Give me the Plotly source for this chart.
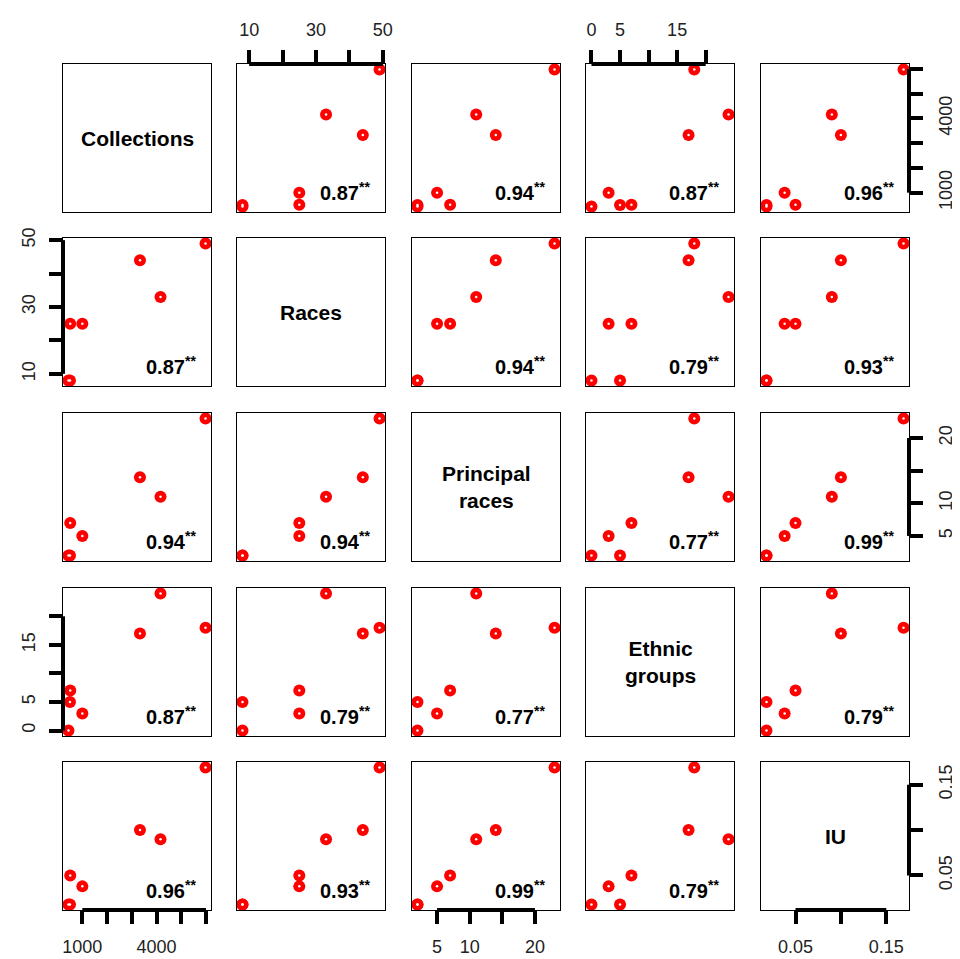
import plotly.graph_objects as go

# ---------------- data ----------------
var_names = ["Collections", "Races", "Principal races", "Ethnic groups", "IU"]
diag_labels = ["Collections", "Races", "Principal<br>races", "Ethnic<br>groups", "IU"]

collections = [5980, 4160, 3330, 1000, 510, 500, 440]
races = [49, 33, 44, 25, 25, 8, 8]
principal_races = [23, 11, 14, 5, 7, 2, 2]
ethnic_groups = [18, 24, 17, 3, 7, 5, 0]
iu = [0.169, 0.090, 0.100, 0.038, 0.050, 0.018, 0.018]

corr_pairs = [(0, 1), (0, 2), (0, 3), (0, 4), (1, 2), (1, 3), (1, 4), (2, 3), (2, 4), (3, 4)]
corr_values = ["0.87", "0.94", "0.87", "0.96", "0.94", "0.79", "0.93", "0.77", "0.99", "0.79"]

coll_ticks = [1000, 2000, 3000, 4000, 5000, 6000]
coll_ticktext = ["1000", "", "", "4000", "", ""]
races_ticks = [10, 20, 30, 40, 50]
races_ticktext = ["10", "", "30", "", "50"]
pr_ticks = [5, 10, 15, 20]
pr_ticktext = ["5", "10", "", "20"]
eth_ticks = [0, 5, 10, 15, 20]
eth_ticktext = ["0", "5", "", "15", ""]
iu_ticks = [0.05, 0.10, 0.15]
iu_ticktext = ["0.05", "", "0.15"]

series = [collections, races, principal_races, ethnic_groups, iu]
ticks = [coll_ticks, races_ticks, pr_ticks, eth_ticks, iu_ticks]
ticktexts = [coll_ticktext, races_ticktext, pr_ticktext, eth_ticktext, iu_ticktext]

# ---------------- layout geometry ----------------
# the page body adds an 8px margin, so the figure is drawn offset by 8px
OFF = 8
W, H = 960 - OFF, 959 - OFF
col_left = [x - OFF for x in [63, 237, 412, 586, 761]]
row_top = [y - OFF for y in [64, 238, 413, 588, 762]]
PW = 148

FONT = "Liberation Sans, Arial, sans-serif"
n = len(series)


def padded(v):
    lo, hi = min(v), max(v)
    d = hi - lo
    return [lo - 0.04 * d, hi + 0.04 * d]


ranges = [padded(s) for s in series]
corr_map = {}
for (i, j), c in zip(corr_pairs, corr_values):
    corr_map[(i, j)] = c
    corr_map[(j, i)] = c

fig = go.Figure()
layout = dict(
    width=W, height=H,
    margin=dict(l=0, r=0, t=0, b=0, autoexpand=False),
    paper_bgcolor="white", plot_bgcolor="white",
    showlegend=False,
)
annotations = []
shapes = []

tick_font = dict(family=FONT, size=18, color="#222222")
tick_style = dict(ticks="outside", ticklen=13, tickwidth=4, tickcolor="black",
                  showticklabels=True, tickfont=tick_font, ticklabelstandoff=7)

for r in range(n):
    for c in range(n):
        k = r * n + c + 1
        xa = "xaxis" if k == 1 else f"xaxis{k}"
        ya = "yaxis" if k == 1 else f"yaxis{k}"
        xr = "x" if k == 1 else f"x{k}"
        yr = "y" if k == 1 else f"y{k}"
        xdom = [col_left[c] / W, (col_left[c] + PW) / W]
        ydom = [1 - (row_top[r] + PW) / H, 1 - row_top[r] / H]

        xaxis = dict(domain=xdom, anchor=yr, range=ranges[c], showgrid=False,
                     zeroline=False, showline=True, linecolor="black", linewidth=1,
                     mirror=True, showticklabels=False, ticks="", automargin=False,
                     fixedrange=True)
        yaxis = dict(domain=ydom, anchor=xr, range=ranges[r], showgrid=False,
                     zeroline=False, showline=True, linecolor="black", linewidth=1,
                     mirror=True, showticklabels=False, ticks="", automargin=False,
                     fixedrange=True)

        # x axes: top on row 1 (cols 2,4), bottom on last row (cols 1,3,5)
        if r == 0 and c % 2 == 1:
            xaxis.update(side="top", tickvals=ticks[c], ticktext=ticktexts[c], **tick_style)
            shapes.append(dict(type="line", xref=xr, yref=f"{yr} domain",
                               x0=ticks[c][0], x1=ticks[c][-1], y0=1, y1=1,
                               line=dict(color="black", width=4)))
        if r == n - 1 and c % 2 == 0:
            xaxis.update(side="bottom", tickvals=ticks[c], ticktext=ticktexts[c], **tick_style)
            shapes.append(dict(type="line", xref=xr, yref=f"{yr} domain",
                               x0=ticks[c][0], x1=ticks[c][-1], y0=0, y1=0,
                               line=dict(color="black", width=4)))
        # y axes: left on col 1 (rows 2,4), right on last col (rows 1,3,5)
        if c == 0 and r % 2 == 1:
            yaxis.update(side="left", tickvals=ticks[r], ticktext=ticktexts[r],
                         tickangle=-90, **tick_style)
            shapes.append(dict(type="line", yref=yr, xref=f"{xr} domain",
                               y0=ticks[r][0], y1=ticks[r][-1], x0=0, x1=0,
                               line=dict(color="black", width=4)))
        if c == n - 1 and r % 2 == 0:
            yaxis.update(side="right", tickvals=ticks[r], ticktext=ticktexts[r],
                         tickangle=-90, **tick_style)
            shapes.append(dict(type="line", yref=yr, xref=f"{xr} domain",
                               y0=ticks[r][0], y1=ticks[r][-1], x0=1, x1=1,
                               line=dict(color="black", width=4)))

        layout[xa] = xaxis
        layout[ya] = yaxis

        if r == c:
            # empty trace so that the diagonal panel is rendered
            fig.add_trace(go.Scatter(x=[None], y=[None], xaxis=xr, yaxis=yr,
                                     mode="markers", hoverinfo="skip"))
            annotations.append(dict(
                xref=f"{xr} domain", yref=f"{yr} domain", x=0.5, y=0.5,
                text=f"<b>{diag_labels[r]}</b>", showarrow=False,
                font=dict(family=FONT, size=21, color="black"),
                xanchor="center", yanchor="middle"))
        else:
            fig.add_trace(go.Scatter(
                x=series[c], y=series[r], xaxis=xr, yaxis=yr, mode="markers",
                marker=dict(size=12, color="#ff0000", line=dict(width=0)),
                hoverinfo="skip"))
            fig.add_trace(go.Scatter(
                x=series[c], y=series[r], xaxis=xr, yaxis=yr, mode="markers",
                marker=dict(size=2.5, color="white", line=dict(width=0)),
                hoverinfo="skip"))
            annotations.append(dict(
                xref=f"{xr} domain", yref=f"{yr} domain", x=0.73, y=0.14,
                text=f"<b>{corr_map[(r, c)]}</b><sup><b>**</b></sup>", showarrow=False,
                font=dict(family=FONT, size=20, color="black"),
                xanchor="center", yanchor="middle"))

layout["annotations"] = annotations
layout["shapes"] = shapes
fig.update_layout(**layout)
fig.write_html("out.html")
